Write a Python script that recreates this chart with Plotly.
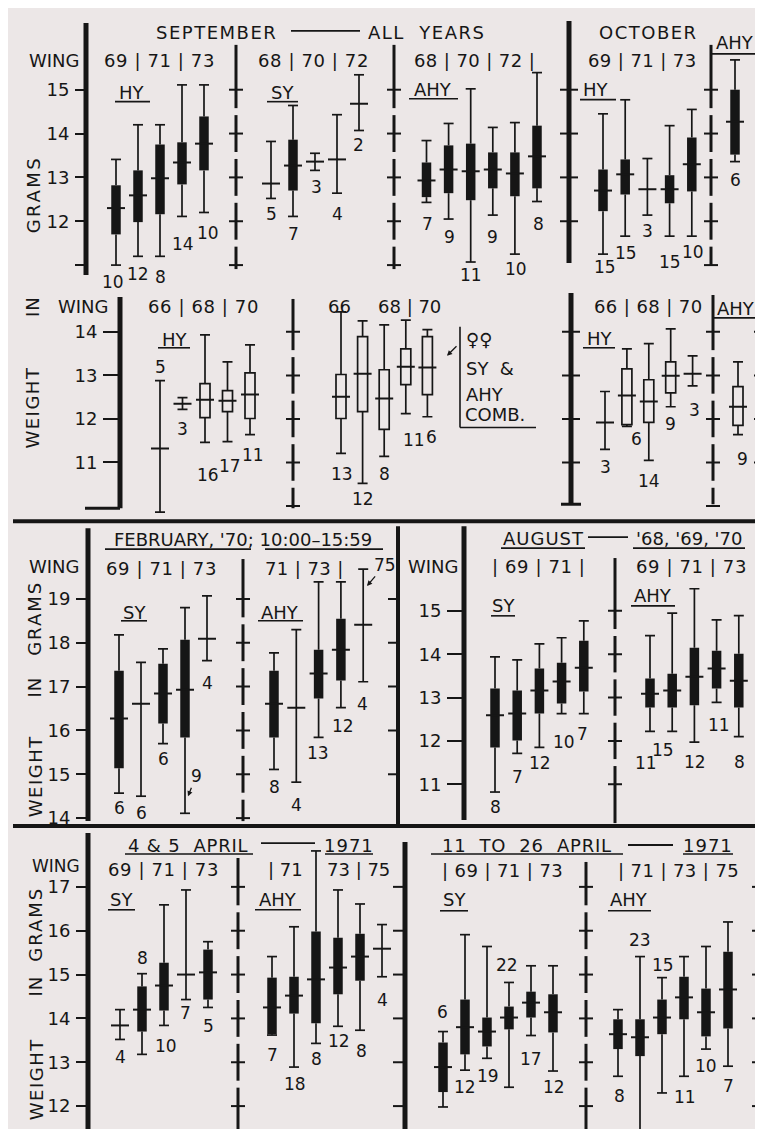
import plotly.graph_objects as go

W, H = 763, 1129
BG = "#ece7e7"
INK = "#161616"
FONT = "DejaVu Sans"

# ======================= DATA (body weight in grams) =======================
# mean, box = lo..hi (None = no box), range = min..max, n = sample size
# ---- September, all years (wing 69-73 HY, 68-72 SY, 68-73 AHY) ----
sep_hy_wing = ["69", "70", "71", "72", "73"]
sep_hy_n    = [10, 12, 8, 14, 10]
sep_hy_mean = [12.30, 12.59, 12.98, 13.34, 13.77]
sep_hy_lo   = [11.70, 11.98, 12.16, 12.84, 13.16]
sep_hy_hi   = [12.82, 13.16, 13.75, 13.80, 14.39]
sep_hy_min  = [11.00, 11.20, 11.20, 12.11, 12.20]
sep_hy_max  = [13.41, 14.20, 14.20, 15.11, 15.11]

sep_sy_wing = ["68", "69", "70", "71", "72"]
sep_sy_n    = [5, 7, 3, 4, 2]
sep_sy_mean = [12.86, 13.27, 13.36, 13.41, 14.68]
sep_sy_lo   = [None, 12.70, None, None, None]
sep_sy_hi   = [None, 13.86, None, None, None]
sep_sy_min  = [12.52, 12.11, 13.16, 12.64, 14.07]
sep_sy_max  = [13.82, 14.64, 13.55, 14.43, 15.34]

sep_ahy_wing = ["68", "69", "70", "71", "72", "73"]
sep_ahy_n    = [7, 9, 11, 9, 10, 8]
sep_ahy_mean = [12.93, 13.18, 13.14, 13.18, 13.09, 13.48]
sep_ahy_lo   = [12.55, 12.64, 12.48, 12.75, 12.57, 12.75]
sep_ahy_hi   = [13.34, 13.73, 13.77, 13.57, 13.57, 14.18]
sep_ahy_min  = [12.43, 12.05, 11.07, 12.14, 11.25, 12.45]
sep_ahy_max  = [13.84, 14.23, 15.02, 14.14, 14.25, 15.39]

# ---- October ----
oct_hy_wing = ["69", "70", "71", "72", "73"]
oct_hy_n    = [15, 15, 3, 15, 10]
oct_hy_mean = [12.70, 13.07, 12.73, 12.73, 13.30]
oct_hy_lo   = [12.23, 12.61, None, 12.41, 12.68]
oct_hy_hi   = [13.18, 13.41, None, 13.05, 13.91]
oct_hy_min  = [11.25, 11.66, 12.14, 11.66, 11.66]
oct_hy_max  = [14.45, 14.77, 13.43, 14.18, 14.55]

oct_ahy_n    = [6]
oct_ahy_mean = [14.27]
oct_ahy_lo   = [13.52]
oct_ahy_hi   = [15.00]
oct_ahy_min  = [13.36]
oct_ahy_max  = [15.68]

# ---- Females (open boxes): September HY, SY & AHY combined; October ----
fem_hy_wing = ["66", "67", "68", "69", "70"]
fem_hy_n    = [5, 3, 16, 17, 11]
fem_hy_mean = [11.32, 12.35, 12.44, 12.42, 12.56]
fem_hy_lo   = [None, None, 12.03, 12.17, 12.01]
fem_hy_hi   = [None, None, 12.81, 12.65, 13.06]
fem_hy_min  = [9.86, 12.22, 11.46, 11.48, 11.64]
fem_hy_max  = [12.88, 12.49, 13.93, 13.31, 13.70]

fem_comb_n    = [13, 12, 8, 11, 6]
fem_comb_mean = [12.51, 13.04, 12.47, 13.20, 13.18]
fem_comb_lo   = [12.01, 12.17, 11.76, 12.79, 12.56]
fem_comb_hi   = [13.02, 13.89, 13.13, 13.61, 13.89]
fem_comb_min  = [11.21, 10.52, 11.14, 12.12, 12.05]
fem_comb_max  = [14.46, 14.25, 14.16, 14.27, 14.05]

fem_oct_hy_n    = [3, 6, 14, 9, 3]
fem_oct_hy_mean = [11.92, 12.54, 12.40, 12.99, 13.04]
fem_oct_hy_lo   = [None, 11.87, 11.92, 12.60, None]
fem_oct_hy_hi   = [None, 13.15, 12.90, 13.31, None]
fem_oct_hy_min  = [11.30, 11.83, 11.05, 12.28, 12.76]
fem_oct_hy_max  = [12.63, 13.61, 13.73, 14.07, 13.45]

fem_oct_ahy_n    = [9]
fem_oct_ahy_mean = [12.28]
fem_oct_ahy_lo   = [11.85]
fem_oct_ahy_hi   = [12.74]
fem_oct_ahy_min  = [11.64]
fem_oct_ahy_max  = [13.31]

# ---- February 1970, 10:00-15:59 ----
feb_sy_n    = [6, 6, 6, 9, 4]
feb_sy_mean = [16.27, 16.61, 16.84, 16.93, 18.09]
feb_sy_lo   = [15.14, None, 16.16, 15.84, None]
feb_sy_hi   = [17.36, None, 17.52, 18.07, None]
feb_sy_min  = [14.57, 14.50, 15.70, 14.11, 17.59]
feb_sy_max  = [18.18, 17.55, 17.86, 18.80, 19.07]

feb_ahy_n    = [8, 4, 13, 12, 4]
feb_ahy_mean = [16.61, 16.52, 17.30, 17.84, 18.41]
feb_ahy_lo   = [15.84, None, 16.73, 17.14, None]
feb_ahy_hi   = [17.36, None, 17.84, 18.55, None]
feb_ahy_min  = [15.11, 14.82, 15.84, 16.52, 17.11]
feb_ahy_max  = [17.77, 18.30, 19.39, 19.39, 19.68]

# ---- August '68, '69, '70 ----
aug_sy_n    = [8, 7, 12, 10, 7]
aug_sy_mean = [12.59, 12.63, 13.16, 13.37, 13.69]
aug_sy_lo   = [11.85, 12.01, 12.63, 12.86, 13.14]
aug_sy_hi   = [13.21, 13.16, 13.67, 13.80, 14.31]
aug_sy_min  = [10.82, 11.71, 11.85, 12.63, 12.63]
aug_sy_max  = [13.94, 13.87, 14.24, 14.38, 14.77]

aug_ahy_n    = [11, 15, 12, 11, 8]
aug_ahy_mean = [13.09, 13.16, 13.48, 13.67, 13.39]
aug_ahy_lo   = [12.77, 12.77, 12.82, 13.21, 12.77]
aug_ahy_hi   = [13.44, 13.55, 14.15, 14.08, 14.01]
aug_ahy_min  = [12.22, 12.22, 11.97, 12.89, 12.10]
aug_ahy_max  = [14.43, 14.95, 15.51, 14.79, 14.89]

# ---- 4 & 5 April 1971 ----
apr1_sy_n    = [4, 8, 10, 7, 5]
apr1_sy_mean = [13.84, 14.20, 14.75, 15.00, 15.05]
apr1_sy_lo   = [None, 13.70, 14.18, None, 14.43]
apr1_sy_hi   = [None, 14.73, 15.27, None, 15.57]
apr1_sy_min  = [13.52, 13.18, 13.84, 14.43, 14.25]
apr1_sy_max  = [14.20, 15.02, 16.59, 16.93, 15.75]

apr1_ahy_n    = [7, 18, 8, 12, 8, 4]
apr1_ahy_mean = [14.25, 14.52, 14.89, 15.16, 15.41, 15.59]
apr1_ahy_lo   = [13.64, 14.11, 13.89, 14.55, 14.86, None]
apr1_ahy_hi   = [14.93, 14.95, 15.98, 15.84, 15.93, None]
apr1_ahy_min  = [13.62, 12.89, 13.43, 13.82, 13.73, 14.95]
apr1_ahy_max  = [15.41, 16.09, 17.82, 16.93, 16.61, 16.14]

# ---- 11 to 26 April 1971 ----
apr2_sy_n    = [6, 12, 19, 22, 17, 12]
apr2_sy_mean = [12.89, 13.80, 13.70, 14.02, 14.36, 14.14]
apr2_sy_lo   = [12.32, 13.18, 13.36, 13.75, 14.02, 13.68]
apr2_sy_hi   = [13.45, 14.43, 14.02, 14.27, 14.61, 14.55]
apr2_sy_min  = [11.98, 12.82, 13.09, 12.43, 13.61, 12.80]
apr2_sy_max  = [13.70, 15.91, 15.64, 14.82, 15.20, 15.20]

apr2_ahy_n    = [8, 23, 15, 11, 10, 7]
apr2_ahy_mean = [13.64, 13.57, 14.02, 14.48, 14.14, 14.66]
apr2_ahy_lo   = [13.30, 13.14, 13.64, 13.98, 13.59, 13.77]
apr2_ahy_hi   = [13.98, 13.98, 14.43, 14.95, 14.68, 15.52]
apr2_ahy_min  = [12.68, 11.41, 12.30, 12.68, 13.30, 12.91]
apr2_ahy_max  = [14.20, 15.41, 14.93, 15.41, 15.64, 16.20]

# ======================= LAYOUT CONSTANTS (pixels) =======================
# y scales: value v0 sits at pixel p0, s pixels per gram
AX = {
    "y":  dict(top=0,   bot=281,  v0=15, p0=82,  s=44.0, line_x=78,
               ticks=[11, 12, 13, 14, 15], text=["", "12", "13", "14", "15"], tlen=11),
    "y2": dict(top=281, bot=513,  v0=14, p0=325, s=43.7, line_x=112,
               ticks=[11, 12, 13, 14], text=["11", "12", "13", "14"], tlen=17),
    "y3": dict(top=517, bot=819,  v0=19, p0=593, s=44.0, line_x=80,
               ticks=[14, 15, 16, 17, 18, 19], text=None, tlen=12),
    "y4": dict(top=517, bot=819,  v0=15, p0=605, s=43.5, line_x=456,
               ticks=[11, 12, 13, 14, 15], text=None, tlen=17),
    "y5": dict(top=823, bot=1129, v0=17, p0=882, s=44.0, line_x=80,
               ticks=[12, 13, 14, 15, 16, 17], text=None, tlen=12),
}

GROUPS = [
    dict(ax="y", x0=108, dx=22.0, fill=True,
         data=(sep_hy_n, sep_hy_mean, sep_hy_lo, sep_hy_hi, sep_hy_min, sep_hy_max),
         lab=[("min", -3, 17), ("min", 0, 18), ("min", 0, 21), ("min", 1, 28), ("min", 4, 21)]),
    dict(ax="y", x0=263, dx=22.0, fill=True,
         data=(sep_sy_n, sep_sy_mean, sep_sy_lo, sep_sy_hi, sep_sy_min, sep_sy_max),
         lab=[("min", 0, 16), ("min", 0, 18), ("min", 1, 17), ("min", 0, 21), ("min", -1, 15)]),
    dict(ax="y", x0=418.5, dx=22.1, fill=True,
         data=(sep_ahy_n, sep_ahy_mean, sep_ahy_lo, sep_ahy_hi, sep_ahy_min, sep_ahy_max),
         lab=[("min", 1, 22), ("min", 1, 18), ("min", 0, 13), ("min", 0, 22), ("min", 1, 15), ("min", 1, 23)]),
    dict(ax="y", x0=595, dx=22.2, fill=True,
         data=(oct_hy_n, oct_hy_mean, oct_hy_lo, oct_hy_hi, oct_hy_min, oct_hy_max),
         lab=[("min", 2, 13), ("min", 1, 17), ("min", 0, 16), ("min", 0, 26), ("min", 1, 16)]),
    dict(ax="y", x0=727, dx=22.0, fill=True,
         data=(oct_ahy_n, oct_ahy_mean, oct_ahy_lo, oct_ahy_hi, oct_ahy_min, oct_ahy_max),
         lab=[("min", 0, 18)]),
    dict(ax="y2", x0=152, dx=22.5, fill=False,
         data=(fem_hy_n, fem_hy_mean, fem_hy_lo, fem_hy_hi, fem_hy_min, fem_hy_max),
         lab=[("max", 0, -14), ("min", 0, 20), ("min", 3, 33), ("min", 2, 25), ("min", 3, 20)]),
    dict(ax="y2", x0=333, dx=21.6, fill=False,
         data=(fem_comb_n, fem_comb_mean, fem_comb_lo, fem_comb_hi, fem_comb_min, fem_comb_max),
         lab=[("min", 1, 21), ("min", 0, 16), ("min", 0, 18), ("min", 8, 26), ("min", 4, 20)]),
    dict(ax="y2", x0=597, dx=21.9, fill=False,
         data=(fem_oct_hy_n, fem_oct_hy_mean, fem_oct_hy_lo, fem_oct_hy_hi, fem_oct_hy_min, fem_oct_hy_max),
         lab=[("min", 0, 18), ("min", 10, 13), ("min", 0, 21), ("min", 0, 17), ("min", 2, 24)]),
    dict(ax="y2", x0=730, dx=22.0, fill=False,
         data=(fem_oct_ahy_n, fem_oct_ahy_mean, fem_oct_ahy_lo, fem_oct_ahy_hi, fem_oct_ahy_min, fem_oct_ahy_max),
         lab=[("min", 4, 24)]),
    dict(ax="y3", x0=111, dx=22.0, fill=True,
         data=(feb_sy_n, feb_sy_mean, feb_sy_lo, feb_sy_hi, feb_sy_min, feb_sy_max),
         lab=[("min", 0, 15), ("min", 0, 17), ("min", 0, 15), ("arrow", 3, -17, 8, -20), ("min", 0, 22)]),
    dict(ax="y3", x0=266, dx=22.3, fill=True,
         data=(feb_ahy_n, feb_ahy_mean, feb_ahy_lo, feb_ahy_hi, feb_ahy_min, feb_ahy_max),
         lab=[("min", 0, 18), ("min", 0, 23), ("min", -1, 16), ("min", 2, 18), ("min", -1, 22)]),
    dict(ax="y4", x0=487, dx=22.2, fill=True,
         data=(aug_sy_n, aug_sy_mean, aug_sy_lo, aug_sy_hi, aug_sy_min, aug_sy_max),
         lab=[("min", 0, 15), ("min", 0, 24), ("min", 1, 16), ("min", 2, 29), ("min", -1, 20)]),
    dict(ax="y4", x0=642, dx=22.2, fill=True,
         data=(aug_ahy_n, aug_ahy_mean, aug_ahy_lo, aug_ahy_hi, aug_ahy_min, aug_ahy_max),
         lab=[("min", -4, 32), ("min", -9, 19), ("min", 1, 20), ("min", 2, 23), ("min", 1, 26)]),
    dict(ax="y5", x0=112, dx=22.0, fill=True,
         data=(apr1_sy_n, apr1_sy_mean, apr1_sy_lo, apr1_sy_hi, apr1_sy_min, apr1_sy_max),
         lab=[("min", 0, 18), ("max", 0, -16), ("min", 2, 21), ("min", -1, 13), ("min", 0, 19)]),
    dict(ax="y5", x0=264, dx=22.0, fill=True,
         data=(apr1_ahy_n, apr1_ahy_mean, apr1_ahy_lo, apr1_ahy_hi, apr1_ahy_min, apr1_ahy_max),
         lab=[("min", 0, 20), ("min", 1, 17), ("min", 0, 16), ("min", 1, 15), ("min", 1, 21), ("min", 0, 23)]),
    dict(ax="y5", x0=435, dx=22.0, fill=True,
         data=(apr2_sy_n, apr2_sy_mean, apr2_sy_lo, apr2_sy_hi, apr2_sy_min, apr2_sy_max),
         lab=[("max", -1, -20), ("min", 0, 17), ("min", 1, 18), ("max", -2, -18), ("min", 0, 24), ("min", 1, 16)]),
    dict(ax="y5", x0=610, dx=22.0, fill=True,
         data=(apr2_ahy_n, apr2_ahy_mean, apr2_ahy_lo, apr2_ahy_hi, apr2_ahy_min, apr2_ahy_max),
         lab=[("min", 1, 20), ("max", 0, -17), ("max", 1, -13), ("min", 1, 21), ("min", 0, 17), ("min", 0, 20)]),
]

BOX_W = 9.5      # px
CAP = 5.0        # half width of whisker caps, px
MEAN_HW = 9.0    # half width of mean bar, px
LAB_SIZE = 17

fig = go.Figure()
ann = []
shp = []


def yp(p):
    return 1 - p / H


def text(x, y, s, size=18, ls=0.0, rot=0, xanchor="center"):
    if ls:
        s = '<span style="letter-spacing:%.1fpx">%s</span>' % (ls, s)
    ann.append(dict(x=x, y=yp(y), xref="x", yref="paper", text=s, showarrow=False,
                    xanchor=xanchor, yanchor="middle", textangle=rot,
                    font=dict(family=FONT, size=size, color=INK)))


def line(x0, y0, x1, y1, w=1.6, ref="paper"):
    if ref == "paper":
        y0, y1 = yp(y0), yp(y1)
    shp.append(dict(type="line", xref="x", yref=ref, x0=x0, x1=x1, y0=y0, y1=y1,
                    line=dict(color=INK, width=w)))


def vbar(x, top, bot, w=5):
    line(x, top, x, bot, w)


def ticks_on(x, ax, vals, left=10, right=0, w=2):
    for v in vals:
        line(x - left, v, x + right, v, w, ref=ax)


def dashed(x, ax, top, bot, vals, w=3, gap=3.5, half=7):
    a = AX[ax]
    pts = sorted(a["p0"] + (a["v0"] - v) * a["s"] for v in vals)
    mids = [(pts[i] + pts[i + 1]) / 2 for i in range(len(pts) - 1)]
    edges = [top] + [m for m in mids for _ in (0, 1)] + [bot]
    for i in range(0, len(edges), 2):
        y0 = edges[i] + (gap if i > 0 else 0)
        y1 = edges[i + 1] - (gap if i + 1 < len(edges) - 1 else 0)
        line(x, y0, x, y1, w)
    ticks_on(x, ax, vals, left=half, right=half, w=2)


# ---------------- marks ----------------
for g in GROUPS:
    ax = g["ax"]
    s = AX[ax]["s"]
    n, mean, lo, hi, mn, mx = g["data"]
    pos = [g["x0"] + i * g["dx"] for i in range(len(n))]

    bx = [p for p, l in zip(pos, lo) if l is not None]
    bb = [l for l in lo if l is not None]
    bh = [h - l for l, h in zip(lo, hi) if l is not None]
    if bx:
        fig.add_trace(go.Bar(
            x=bx, y=bh, base=bb, width=[BOX_W + (0.5 if not g["fill"] else 0)] * len(bx),
            marker=dict(color=INK if g["fill"] else BG,
                        line=dict(color=INK, width=0 if g["fill"] else 1.7)),
            xaxis="x", yaxis=ax, hoverinfo="skip", showlegend=False))

    wx, wy = [], []
    for p, l, h, a, b in zip(pos, lo, hi, mn, mx):
        if l is None:
            wx += [p, p, None]; wy += [a, b, None]
        else:
            wx += [p, p, None, p, p, None]; wy += [a, l, None, h, b, None]
        wx += [p - CAP, p + CAP, None, p - CAP, p + CAP, None]
        wy += [a, a, None, b, b, None]
    fig.add_trace(go.Scatter(x=wx, y=wy, mode="lines", line=dict(color=INK, width=1.7),
                             xaxis="x", yaxis=ax, hoverinfo="skip", showlegend=False,
                             cliponaxis=False))

    mxs, mys = [], []
    for p, m in zip(pos, mean):
        mxs += [p - MEAN_HW, p + MEAN_HW, None]
        mys += [m, m, None]
    fig.add_trace(go.Scatter(x=mxs, y=mys, mode="lines", line=dict(color=INK, width=2.0),
                             xaxis="x", yaxis=ax, hoverinfo="skip", showlegend=False,
                             cliponaxis=False))

    for i, spec in enumerate(g["lab"]):
        if spec[0] == "arrow":
            _, hdx, hdy, tax, tay = spec
            ann.append(dict(x=pos[i] + hdx, y=mn[i] - hdy / s, xref="x", yref=ax,
                            text=str(n[i]), showarrow=True, ax=tax, ay=tay,
                            arrowhead=2, arrowsize=0.8, arrowwidth=1.3, arrowcolor=INK,
                            standoff=0, font=dict(family=FONT, size=LAB_SIZE, color=INK)))
            continue
        ref, ddx, ddy = spec
        base = mn[i] if ref == "min" else mx[i]
        ann.append(dict(x=pos[i] + ddx, y=base - ddy / s, xref="x", yref=ax,
                        text=str(n[i]), showarrow=False, xanchor="center", yanchor="middle",
                        font=dict(family=FONT, size=LAB_SIZE, color=INK)))

# ---------------- frames ----------------
# band separators
line(5, 515, 763, 515, 4)
line(5, 821, 763, 821, 4)

# top row (y)
vbar(78, 15, 268)
dashed(228, "y", 37, 262, [15, 14, 13, 12, 11])
dashed(386, "y", 37, 262, [15, 14, 13, 12, 11])
vbar(561, 13, 256, 5)
ticks_on(561, "y", [15, 14, 13, 12], left=9, right=9)
dashed(703, "y", 37, 258, [15, 14, 13, 12, 11])
vbar(758, 15, 256, 5)
ticks_on(758, "y", [15, 14, 13, 12], left=11)

# second row (y2)
vbar(112, 290, 502)
line(77, 502, 112, 502, 3)
dashed(285, "y2", 292, 502, [14, 13, 12, 11, 10])
vbar(563, 286, 498, 5)
ticks_on(563, "y2", [14, 13, 12, 11], left=9, right=9)
line(553, 498, 573, 498, 3)
dashed(705, "y2", 288, 498, [14, 13, 12, 11, 10])
vbar(757, 283, 498, 5)
ticks_on(757, "y2", [14, 13, 12, 11], left=11)
line(747, 498, 757, 498, 3)

# February (y3)
vbar(80, 522, 816)
dashed(235, "y3", 553, 816, [19, 18, 17, 16, 15, 14])
vbar(390, 520, 819, 4)
ticks_on(390, "y3", [19, 18, 17, 16, 15], left=10)

# August (y4)
vbar(456, 520, 815)
dashed(607, "y4", 552, 818, [15, 14, 13, 12, 11])
vbar(758, 520, 815, 5)
ticks_on(758, "y4", [15, 14, 13, 12, 11], left=11)

# April (y5)
vbar(80, 828, 1129)
dashed(230, "y5", 853, 1129, [17, 16, 15, 14, 13, 12])
vbar(397, 837, 1129, 5)
ticks_on(397, "y5", [17, 16, 15, 14, 13, 12], left=12)
dashed(578, "y5", 857, 1129, [17, 16, 15, 14, 13, 12])
vbar(755, 828, 1129, 5)
ticks_on(755, "y5", [17, 16, 15, 14, 13, 12], left=11)

# ---------------- texts ----------------
# row 1
text(208, 25, "SEPTEMBER", ls=1.5)
line(283, 23, 352, 23, 1.8)
text(418, 25, "ALL  YEARS", ls=1.5)
text(46, 53, "WING")
text(151, 53, "69 | 71 | 73", ls=0.6)
text(305, 53, "68 | 70 | 72", ls=0.6)
text(466, 53, "68 | 70 | 72 |", ls=0.4)
text(124, 85, "HY"); line(107, 94, 142, 94)
text(274, 85, "SY"); line(259, 94, 290, 94)
text(425, 82, "AHY"); line(401, 91, 450, 91)
text(640, 25, "OCTOBER", ls=1.5)
text(634, 53, "69 | 71 | 73", ls=0.4)
text(727, 35, "AHY"); line(703, 46, 748, 46)
text(588, 82, "HY"); line(572, 92, 608, 92)

# row 2
text(75, 300, "WING")
text(195, 300, "66 | 68 | 70", ls=0.6)
text(331, 300, "66")
text(401, 300, "68 | 70")
text(167, 333, "HY"); line(150, 341, 182, 341)
text(640, 300, "66 | 68 | 70", ls=0.4)
text(728, 302, "AHY"); line(705, 311, 750, 311)
text(592, 332, "HY"); line(575, 341, 607, 341)
text(456, 333, "\u2640\u2640", xanchor="left")
text(456, 362, "SY  &", xanchor="left")
text(456, 388, "AHY", xanchor="left")
text(455, 408, "COMB.", xanchor="left")
line(452, 320, 452, 421)
line(452, 421, 528, 421)
ann.append(dict(x=439, y=yp(349), xref="x", yref="paper", text="", showarrow=True,
                ax=11, ay=-11, arrowhead=2, arrowsize=0.8, arrowwidth=1.3, arrowcolor=INK))

# February
text(46, 560, "WING")
text(235, 533, "FEBRUARY, '70; 10:00\u201315:59")
line(97, 543, 243, 543); line(257, 543, 375, 543)
text(153, 562, "69 | 71 | 73", ls=0.6)
text(296, 562, "71 | 73 |", ls=0.4)
ann.append(dict(x=359, y=AX["y3"]["v0"] - (580 - AX["y3"]["p0"]) / AX["y3"]["s"], xref="x",
                yref="y3", text="75", showarrow=True, ax=18, ay=-21, arrowhead=2,
                arrowsize=0.8, arrowwidth=1.3, arrowcolor=INK, standoff=0,
                font=dict(family=FONT, size=LAB_SIZE, color=INK)))
text(126, 607, "SY"); line(113, 615, 139, 615)
text(272, 607, "AHY"); line(250, 615, 295, 615)

# August
text(425, 560, "WING")
text(535, 532, "AUGUST", ls=1.0); line(493, 542, 577, 542)
line(580, 531, 620, 531, 1.8)
text(681, 532, "'68, '69, '70"); line(625, 542, 737, 542)
text(531, 560, "| 69 | 71 |", ls=0.6)
text(683, 560, "69 | 71 | 73", ls=0.6)
text(495, 600, "SY"); line(483, 610, 507, 610)
text(645, 590, "AHY"); line(623, 600, 667, 600)

# April
text(48, 861, "WING", size=17)
text(180, 840, "4 & 5  APRIL", ls=0.8); line(117, 849, 245, 849)
line(253, 838, 307, 838, 1.8)
text(341, 840, "1971", ls=1.0); line(317, 849, 365, 849)
text(155, 865, "69 | 71 | 73", ls=0.6)
text(277, 865, "| 71")
text(350, 865, "73 | 75")
text(113, 895, "SY"); line(100, 905, 127, 905)
text(270, 895, "AHY"); line(247, 905, 293, 905)
text(519, 840, "11  TO  26  APRIL", ls=0.8); line(423, 849, 615, 849)
line(620, 840, 665, 840, 1.8)
text(700, 840, "1971", ls=1.0); line(675, 849, 725, 849)
text(494, 866, "| 69 | 71 | 73", ls=0.4)
text(670, 866, "| 71 | 73 | 75", ls=0.4)
text(446, 895, "SY"); line(432, 906, 460, 906)
text(621, 895, "AHY"); line(600, 906, 643, 906)

# rotated axis titles
for cx, cy, s_, ls in [(25, 187, "GRAMS", 2.5), (25, 300, "IN", 1), (25, 401, "WEIGHT", 1.5),
                       (27, 613, "GRAMS", 2.0), (27, 682, "IN", 1), (27, 771, "WEIGHT", 1.5),
                       (28, 920, "GRAMS", 2.0), (28, 982, "IN", 1), (28, 1075, "WEIGHT", 1.5)]:
    text(cx, cy, s_, rot=-90, ls=ls)

# ---------------- axes ----------------
layout_axes = {}
for name, a in AX.items():
    key = "yaxis" if name == "y" else "yaxis" + name[1:]
    rng = [a["v0"] - (a["bot"] - a["p0"]) / a["s"], a["v0"] + (a["p0"] - a["top"]) / a["s"]]
    layout_axes[key] = dict(
        domain=[1 - a["bot"] / H, 1 - a["top"] / H], range=rng, anchor="free",
        position=a["line_x"] / W, side="left", showgrid=False, zeroline=False,
        showline=False, ticks="outside", ticklen=a["tlen"], tickwidth=2, tickcolor=INK,
        tickvals=a["ticks"], ticktext=a["text"] if a["text"] else [str(t) for t in a["ticks"]],
        tickfont=dict(family=FONT, size=18, color=INK), ticklabelstandoff=2,
        fixedrange=True)

fig.update_layout(
    width=W, height=H, margin=dict(l=0, r=0, t=0, b=0),
    paper_bgcolor=BG, plot_bgcolor="rgba(0,0,0,0)",
    barmode="overlay", showlegend=False,
    xaxis=dict(domain=[0, 1], range=[0, W], visible=False, anchor="y", fixedrange=True),
    annotations=ann, shapes=shp, **layout_axes)

fig.write_html("out.html")
